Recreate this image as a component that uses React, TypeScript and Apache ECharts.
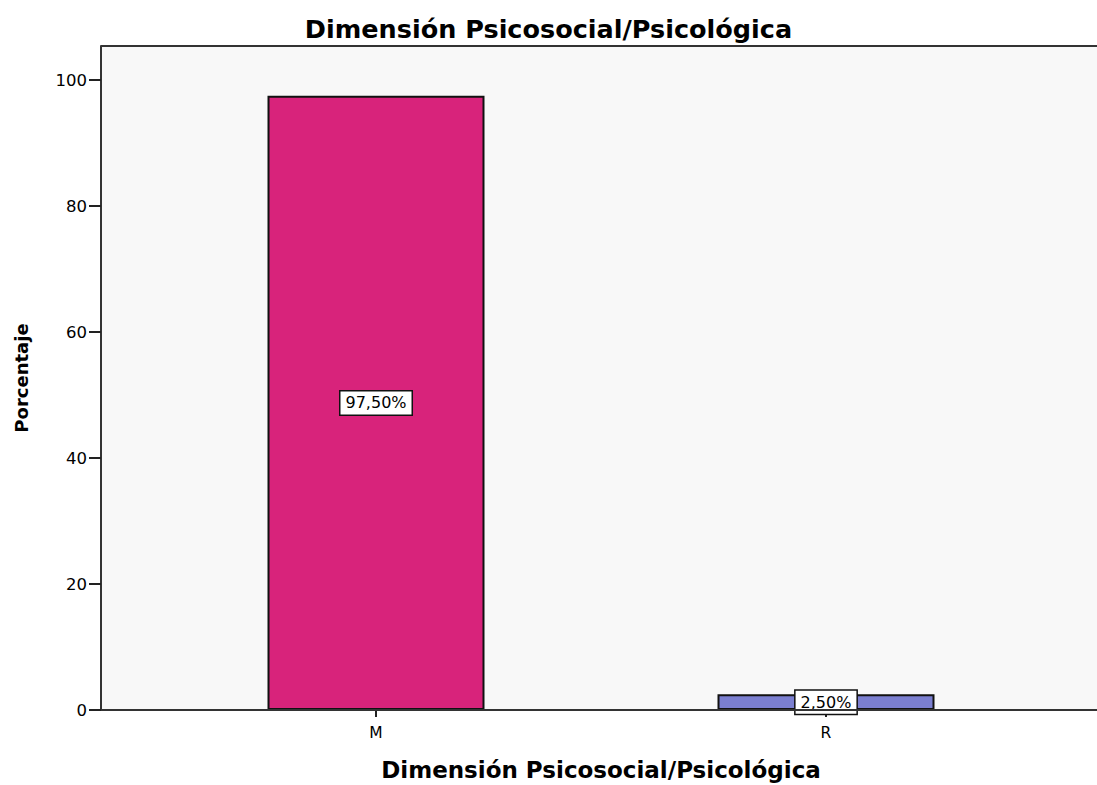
import React, { useEffect, useRef } from "react";
import * as echarts from "echarts";

const categories = ["M", "R"];
const values = [97.5, 2.5];
const valueLabels = ["97,50%", "2,50%"];
const barColors = ["#d8237b", "#7b7fd0"];
const yTicks = [0, 20, 40, 60, 80, 100];
const titleText = "Dimensión Psicosocial/Psicológica";
const xName = "Dimensión Psicosocial/Psicológica";
const yName = "Porcentaje";

const FONT = "'DejaVu Sans', 'Liberation Sans', Arial, sans-serif";

export default function App() {
  const ref = useRef<HTMLDivElement>(null);
  useEffect(() => {
    document.body.style.margin = "0";
    const chart = echarts.init(ref.current!, null, { renderer: "svg" });
    const W = 1097;
    const gridLeft = 151;
    const gridRight = 46;
    const gridTop = 46;
    const gridBottom = 75;
    const plotBottom = 785 - gridBottom;
    chart.setOption({
      animation: false,
      backgroundColor: "#ffffff",
      title: {
        text: titleText,
        left: "center",
        top: 11,
        textStyle: { fontFamily: FONT, fontWeight: "bold", fontSize: 25.5, color: "#000" },
      },
      graphic: [
        {
          type: "rect",
          z: -10,
          silent: true,
          shape: { x: 101, y: gridTop, width: W - 101 + 10, height: plotBottom - gridTop },
          style: { fill: "#f8f8f8" },
        },
        {
          type: "line",
          z: 50,
          silent: true,
          shape: { x1: 101, y1: gridTop, x2: W, y2: gridTop },
          style: { stroke: "#333", lineWidth: 2 },
        },
        {
          type: "line",
          z: 50,
          silent: true,
          shape: { x1: 101, y1: plotBottom, x2: W, y2: plotBottom },
          style: { stroke: "#333", lineWidth: 2 },
        },
      ],
      grid: {
        left: gridLeft,
        right: gridRight,
        top: gridTop,
        bottom: gridBottom,
        containLabel: false,
        outerBoundsMode: "none",
      },
      xAxis: {
        type: "category",
        data: categories,
        name: xName,
        nameLocation: "middle",
        nameGap: 48,
        nameTextStyle: { fontFamily: FONT, fontWeight: "bold", fontSize: 23, color: "#000" },
        axisLine: { show: false },
        axisTick: { show: true, alignWithLabel: true, length: 7, lineStyle: { color: "#222", width: 2 } },
        axisLabel: { fontFamily: FONT, fontSize: 15.5, color: "#000", margin: 15 },
        splitLine: { show: false },
      },
      yAxis: {
        type: "value",
        min: 0,
        max: 105.4,
        interval: 20,
        offset: 50,
        name: yName,
        nameLocation: "middle",
        nameGap: 71,
        nameRotate: 90,
        nameTextStyle: { fontFamily: FONT, fontWeight: "bold", fontSize: 18, color: "#000" },
        axisLine: { show: true, lineStyle: { color: "#333", width: 2 } },
        axisTick: { show: true, length: 12, customValues: yTicks, lineStyle: { color: "#222", width: 2 } },
        axisLabel: {
          fontFamily: FONT,
          fontSize: 16.5,
          color: "#000",
          margin: 14,
          customValues: yTicks,
          formatter: (v: number) => (yTicks.includes(v) ? String(v) : ""),
        },
        splitLine: { show: false },
      },
      series: [
        {
          type: "bar",
          barWidth: 217,
          data: values.map((v, i) => ({
            value: v,
            itemStyle: { color: barColors[i], borderColor: "#111", borderWidth: 2 },
            label: {
              show: true,
              position: "inside",
              formatter: valueLabels[i],
              fontFamily: FONT,
              fontSize: 16,
              color: "#000",
              backgroundColor: "#ffffff",
              borderColor: "#111",
              borderWidth: 1.5,
              padding: [4, 5, 3, 5],
            },
          })),
        },
      ],
    });
    return () => chart.dispose();
  }, []);
  return <div ref={ref} style={{ width: 1097, height: 785 }} />;
}
